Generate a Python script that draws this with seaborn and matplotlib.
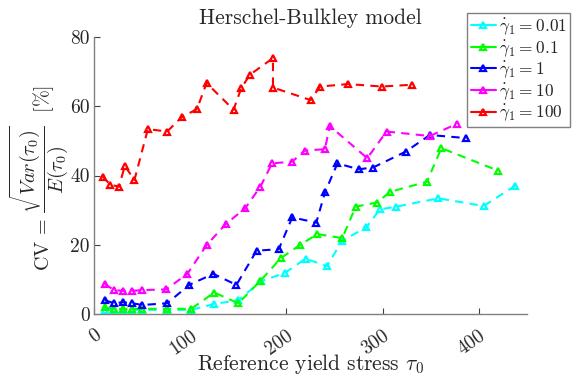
import matplotlib
matplotlib.use("Agg")
import matplotlib.pyplot as plt
import seaborn as sns
import pandas as pd
from matplotlib.lines import Line2D

sns.set_theme(style="white")
plt.rcParams["font.family"] = ["serif"]
plt.rcParams["font.serif"] = ["cmr10", "DejaVu Serif"]
plt.rcParams["mathtext.fontset"] = "cm"
plt.rcParams["axes.formatter.use_mathtext"] = True

labels = [r"$\dot{\gamma}_1 = 0.01$", r"$\dot{\gamma}_1 = 0.1$", r"$\dot{\gamma}_1 = 1$",
          r"$\dot{\gamma}_1 = 10$", r"$\dot{\gamma}_1 = 100$"]
colors = ["#00ffff", "#00ff00", "#0000ff", "#ff00ff", "#ff0000"]

x_001 = [11, 21, 30, 40, 50, 76, 101, 125, 150, 174, 198, 220, 242, 258, 283, 297, 314, 358, 405, 438]
y_001 = [1.2, 1.2, 1.2, 1.2, 1.2, 1.2, 1.2, 2.9, 4.0, 9.5, 11.8, 16.0, 13.8, 21.2, 25.0, 30.2, 31.0, 33.4, 31.2, 37.1]

x_01 = [11, 21, 30, 40, 50, 76, 101, 125, 150, 173, 194, 214, 232, 258, 272, 294, 308, 346, 361, 420]
y_01 = [1.9, 1.5, 1.5, 1.5, 1.5, 1.5, 1.5, 6.2, 3.1, 9.6, 16.1, 19.9, 23.1, 21.9, 31.0, 32.2, 35.3, 38.2, 47.9, 41.4]

x_1 = [11, 21, 30, 40, 50, 76, 99, 124, 148, 169, 192, 206, 231, 240, 253, 275, 290, 324, 349, 387]
y_1 = [4.0, 3.1, 3.4, 3.1, 2.6, 3.1, 8.4, 11.6, 8.4, 18.3, 18.7, 27.9, 26.4, 35.1, 43.5, 41.8, 42.3, 46.9, 51.7, 50.8]

x_10 = [11, 21, 30, 40, 50, 75, 97, 117, 137, 157, 173, 185, 206, 219, 240, 245, 284, 304, 349, 377]
y_10 = [8.7, 6.9, 6.7, 6.7, 6.9, 7.1, 11.6, 19.9, 26.0, 30.5, 36.8, 43.5, 44.0, 47.2, 47.6, 54.3, 45.0, 52.7, 51.4, 54.9]

x_100 = [9, 17, 26, 32, 42, 56, 76, 91, 107, 117, 145, 153, 162, 186, 186, 225, 235, 264, 299, 330]
y_100 = [39.7, 37.3, 36.8, 42.8, 38.7, 53.4, 52.7, 56.8, 59.2, 66.7, 59.0, 65.2, 69.1, 73.9, 65.4, 61.8, 65.7, 66.4, 65.7, 66.2]

series_x = [x_001, x_01, x_1, x_10, x_100]
series_y = [y_001, y_01, y_1, y_10, y_100]

xticks = [0, 100, 200, 300, 400]
yticks = [0, 20, 40, 60, 80]

fig = plt.figure(figsize=(5.74, 3.78), dpi=100)
ax = fig.add_axes([94 / 574, 1 - 314 / 378, (527 - 94) / 574, (314 - 37) / 378])

for xs, ys, c in zip(series_x, series_y, colors):
    df = pd.DataFrame({"x": xs, "y": ys})
    sns.lineplot(data=df, x="x", y="y", ax=ax, color=c, estimator=None, sort=False,
                 linestyle="--", linewidth=1.5, marker="^", markersize=4.5,
                 markerfacecolor="none", markeredgecolor=c, markeredgewidth=1.6,
                 dashes=False)
    ax.lines[-1].set_dashes((4, 3))

ax.set_xlim(0, 450)
ax.set_ylim(0, 80)
ax.set_xticks(xticks)
ax.set_xticklabels([str(t) for t in xticks], rotation=35, ha="right", rotation_mode="anchor")
ax.set_yticks(yticks)
ax.set_yticklabels([str(t) for t in yticks])
ax.tick_params(direction="in", length=4, width=0.8, labelsize=14, color="#404040",
               bottom=True, left=True)
ax.tick_params(axis="x", pad=9)
ax.tick_params(axis="y", pad=3)
for s in ["top", "right"]:
    ax.spines[s].set_visible(False)
for s in ["left", "bottom"]:
    ax.spines[s].set_color("#808080")
    ax.spines[s].set_linewidth(1.0)

ax.set_xlabel(r"Reference yield stress $\tau_0$", fontsize=15.5)
ax.xaxis.set_label_coords(0.5, (314 - 352) / 277)
ax.set_ylabel(r"$\mathrm{CV}\,=\,\dfrac{\sqrt{Var(\tau_0)}}{E(\tau_0)}\ $ [%]", fontsize=14.5)
ax.yaxis.set_label_coords((70 - 94) / 433, 0.49)
ax.set_title("Herschel-Bulkley model", fontsize=15.5, pad=9)

handles = [Line2D([0], [0], color=c, linestyle="-", linewidth=1.5, marker="^",
                  markersize=4.5, markerfacecolor="none", markeredgewidth=1.6)
           for c in colors]
leg = fig.legend(handles, labels, loc="upper right", bbox_to_anchor=(570 / 574, 1 - 13 / 378),
                 fontsize=12.5, frameon=True, fancybox=False, framealpha=1,
                 edgecolor="#808080", handlelength=1.45, handletextpad=0.15,
                 borderpad=0.2, labelspacing=0.05, borderaxespad=0)
leg.get_frame().set_linewidth(1.0)

fig.savefig("out.png", dpi=100)
